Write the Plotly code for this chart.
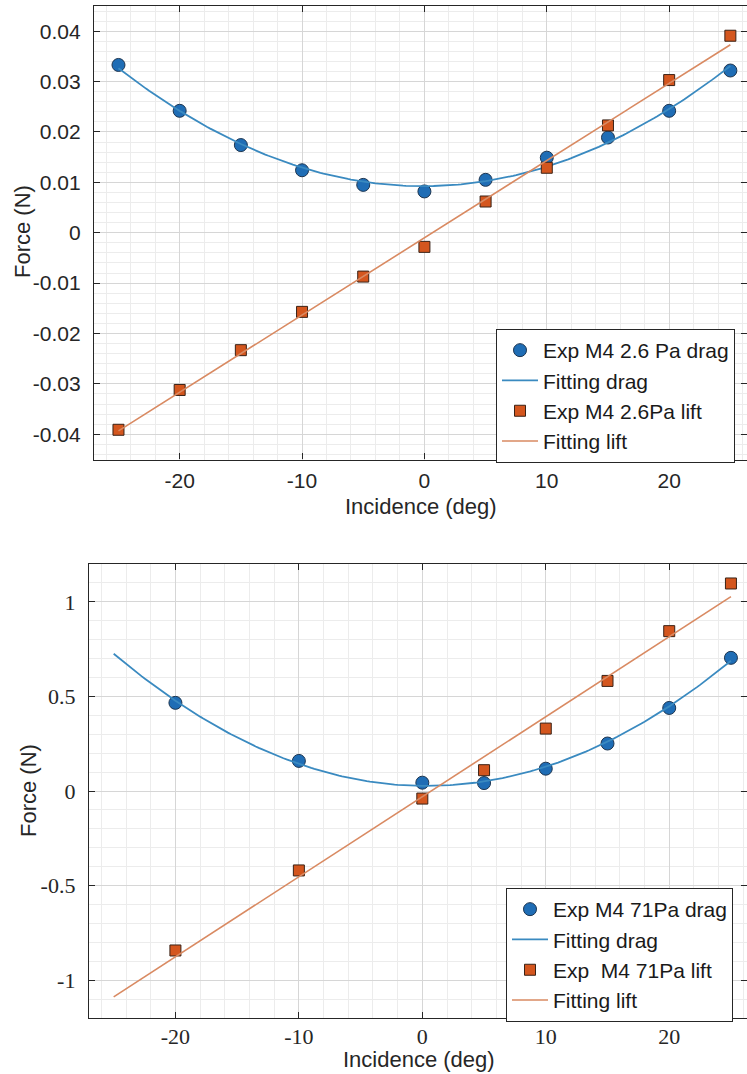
import numpy as np
import plotly.graph_objects as go

# ---- Upper panel: M4 at 2.6 Pa ----
incidence_low = [-25, -20, -15, -10, -5, 0, 5, 10, 15, 20, 25]
drag_low = [0.0333, 0.0242, 0.0174, 0.0124, 0.0095, 0.0082, 0.0105, 0.0149, 0.0189, 0.0242, 0.0322]
lift_low = [-0.0391, -0.0312, -0.0233, -0.0157, -0.0087, -0.0028, 0.0062, 0.0129, 0.0213, 0.0303, 0.0391]

# ---- Lower panel: M4 at 71 Pa ----
incidence_high = [-20, -10, 0, 5, 10, 15, 20, 25]
drag_high = [0.466, 0.159, 0.044, 0.042, 0.118, 0.251, 0.439, 0.704]
lift_high = [-0.843, -0.420, -0.040, 0.110, 0.330, 0.582, 0.845, 1.097]

# Axis ticks
x_ticks = [-20, -10, 0, 10, 20]
x_ticktext = ["-20", "-10", "0", "10", "20"]
y_ticks_low = [-0.04, -0.03, -0.02, -0.01, 0, 0.01, 0.02, 0.03, 0.04]
y_ticktext_low = ["-0.04", "-0.03", "-0.02", "-0.01", "0", "0.01", "0.02", "0.03", "0.04"]
y_ticks_high = [-1, -0.5, 0, 0.5, 1]
y_ticktext_high = ["-1", "-0.5", "0", "0.5", "1"]

# Fit span
fit_span = [-25, 25]

BLUE = "#1f6db5"
BLUE_EDGE = "#1d3550"
ORANGE = "#d4561e"
ORANGE_EDGE = "#3a2216"
BLUE_LINE = "#3a8ac0"
ORANGE_LINE = "#d98a62"
AX = "#262626"

W, H = 747, 1074


def fits(x, drag, lift):
    xs = np.linspace(fit_span[0], fit_span[1], 201)
    d = np.polyval(np.polyfit(x, drag, 2), xs)
    l = np.polyval(np.polyfit(x, lift, 1), xs)
    return xs, d, l


fig = go.Figure()


def add_panel(x, drag, lift, names, xa, ya, legend):
    xs, dfit, lfit = fits(x, drag, lift)
    fig.add_trace(go.Scatter(x=x, y=drag, mode="markers", name=names[0],
                             marker=dict(symbol="circle", size=13, color=BLUE,
                                         line=dict(color=BLUE_EDGE, width=1)),
                             xaxis=xa, yaxis=ya, legend=legend))
    fig.add_trace(go.Scatter(x=xs, y=dfit, mode="lines", name=names[1],
                             line=dict(color=BLUE_LINE, width=1.8),
                             xaxis=xa, yaxis=ya, legend=legend))
    fig.add_trace(go.Scatter(x=x, y=lift, mode="markers", name=names[2],
                             marker=dict(symbol="square", size=11, color=ORANGE,
                                         line=dict(color=ORANGE_EDGE, width=1)),
                             xaxis=xa, yaxis=ya, legend=legend))
    fig.add_trace(go.Scatter(x=xs, y=lfit, mode="lines", name=names[3],
                             line=dict(color=ORANGE_LINE, width=1.6),
                             xaxis=xa, yaxis=ya, legend=legend))


add_panel(incidence_low, drag_low, lift_low,
          ["Exp M4 2.6 Pa drag", "Fitting drag", "Exp M4 2.6Pa lift", "Fitting lift"],
          "x", "y", "legend")
add_panel(incidence_high, drag_high, lift_high,
          ["Exp M4 71Pa drag", "Fitting drag", "Exp\u00a0 M4 71Pa lift", "Fitting lift"],
          "x2", "y2", "legend2")

sans = "Liberation Sans, Arial, sans-serif"
serif = "Liberation Serif, Times New Roman, serif"


def xaxis_cfg(domain, rng, font, size, standoff, anchor):
    return dict(domain=domain, range=rng, anchor=anchor, tickmode="array",
                tickvals=x_ticks, ticktext=x_ticktext,
                ticks="inside", ticklen=6, tickwidth=1.2, tickcolor=AX,
                showline=True, linecolor=AX, linewidth=1.4, mirror="ticks",
                showgrid=True, gridcolor="#d6d6d6", gridwidth=1, zeroline=False,
                minor=dict(dtick=2, tick0=0, showgrid=True, gridcolor="#ececec", gridwidth=1, ticks=""),
                tickfont=dict(family=font, size=size, color=AX), ticklabelstandoff=standoff)


def yaxis_cfg(domain, rng, tv, tt, mdt, font, size, anchor):
    return dict(domain=domain, range=rng, anchor=anchor, tickmode="array", tickvals=tv, ticktext=tt,
                ticks="inside", ticklen=6, tickwidth=1.2, tickcolor=AX,
                showline=True, linecolor=AX, linewidth=1.4, mirror="ticks",
                showgrid=True, gridcolor="#d6d6d6", gridwidth=1, zeroline=False,
                minor=dict(dtick=mdt, tick0=0, showgrid=True, gridcolor="#ececec", gridwidth=1, ticks=""),
                tickfont=dict(family=font, size=size, color=AX), ticklabelstandoff=8)


top_dom_y = [1 - 459.5 / H, 1 - 6 / H]
bot_dom_y = [1 - 1018 / H, 1 - 564 / H]

legend_common = dict(bgcolor="white", bordercolor=AX, borderwidth=1,
                     font=dict(family=sans, size=21, color="#1a1a1a"),
                     xanchor="left", yanchor="top", traceorder="normal",
                     tracegroupgap=0, itemwidth=36)

fig.update_layout(
    width=W, height=H,
    margin=dict(l=0, r=0, t=0, b=0),
    paper_bgcolor="white", plot_bgcolor="white",
    xaxis=xaxis_cfg([94 / W, 1], [-27, 26.36], sans, 21, 2, "y"),
    yaxis=yaxis_cfg(top_dom_y, [-0.045, 0.045], y_ticks_low, y_ticktext_low, 0.002, sans, 21, "x"),
    xaxis2=xaxis_cfg([89 / W, 1], [-27, 26.3], serif, 22, -2, "y2"),
    yaxis2=yaxis_cfg(bot_dom_y, [-1.2, 1.2], y_ticks_high, y_ticktext_high, 0.1, serif, 22, "x2"),
    legend=dict(x=496 / W, y=1 - 329 / H, **legend_common),
    legend2=dict(x=506 / W, y=1 - 888 / H, **legend_common),
    showlegend=True,
)


def label(text, x, y, angle=0):
    fig.add_annotation(text=text, x=x / W, y=1 - y / H, xref="paper", yref="paper",
                       xanchor="center", yanchor="middle", showarrow=False, textangle=angle,
                       font=dict(family=sans, size=22, color=AX))


label("Incidence (deg)", 421, 506)
label("Force (N)", 22, 232, -90)
label("Incidence (deg)", 419, 1059)
label("Force (N)", 29, 790, -90)

fig.write_html("out.html")
